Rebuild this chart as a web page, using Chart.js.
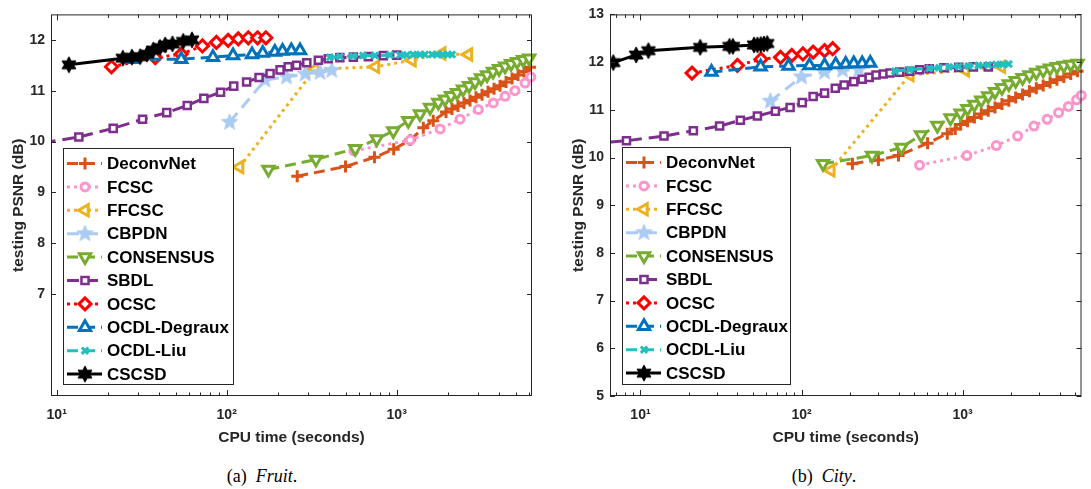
<!DOCTYPE html>
<html>
<head>
<meta charset="utf-8">
<script src="https://cdn.jsdelivr.net/npm/chart.js@4.4.1/dist/chart.umd.min.js"></script>
<style>
  html, body { margin: 0; padding: 0; background: #fff; }
  body { width: 1091px; height: 489px; position: relative; overflow: hidden; }
  canvas { position: absolute; top: 0; }
  #fruitCanvas { left: 0; }
  #cityCanvas { left: 560px; }
  .caption {
    position: absolute; top: 466px; transform: translateX(-50%);
    font: 18px "Liberation Serif", "Times New Roman", serif; color: #000; white-space: pre;
  }
</style>
</head>
<body>
<canvas id="fruitCanvas" width="545" height="450"></canvas>
<canvas id="cityCanvas" width="531" height="450"></canvas>
<div class="caption" style="left:262px">(a)  <i>Fruit</i>.</div>
<div class="caption" style="left:824px">(b)  <i>City</i>.</div>
<script>
// method names, in legend order
const methods = ["DeconvNet", "FCSC", "FFCSC", "CBPDN", "CONSENSUS", "SBDL", "OCSC", "OCDL-Degraux", "OCDL-Liu", "CSCSD"];

// ---- (a) Fruit : [CPU time (s), testing PSNR (dB)] ----
const fruitDeconvNet = [[260, 9.32], [500, 9.51], [740, 9.69], [960, 9.85], [1200, 10.03], [1434, 10.27], [1640, 10.41],
  [1950, 10.58], [2115, 10.64], [2294, 10.70], [2489, 10.76], [2700, 10.81], [2929, 10.87], [3177, 10.92], [3446, 10.98],
  [3738, 11.04], [4054, 11.10], [4398, 11.17], [4770, 11.24], [5175, 11.31], [5613, 11.38], [6089, 11.46]];
const fruitFCSC = [[560, 9.82], [1200, 10.03], [1800, 10.25], [2360, 10.44], [3020, 10.63], [3700, 10.76], [4340, 10.89],
  [4960, 11.00], [5690, 11.15], [6150, 11.27]];
const fruitFFCSC = [[119, 9.50], [330, 11.42], [750, 11.47], [1230, 11.60], [1840, 11.73], [2640, 11.71]];
const fruitCBPDN = [[104, 10.38], [168, 11.21], [225, 11.27], [289, 11.33], [354, 11.36], [415, 11.40]];
const fruitCONSENSUS = [[176, 9.45], [335, 9.65], [570, 9.86], [763, 10.05], [955, 10.21], [1170, 10.41], [1371, 10.54],
  [1571, 10.67], [1758, 10.77], [1923, 10.83], [2086, 10.90], [2263, 10.96], [2455, 11.03], [2663, 11.10], [2889, 11.17],
  [3134, 11.25], [3400, 11.31], [3688, 11.38], [4001, 11.43], [4340, 11.48], [4709, 11.53], [5108, 11.57], [5541, 11.61],
  [6011, 11.64]];
const fruitSBDL = [[6.5, 9.92], [13.5, 10.09], [21.5, 10.26], [32, 10.44], [44.4, 10.57], [58.6, 10.71], [73.4, 10.85],
  [92, 10.97], [110, 11.09], [131, 11.17], [155, 11.26], [180, 11.34], [206, 11.41], [230, 11.47], [258, 11.50],
  [296, 11.55], [346, 11.60], [396, 11.63], [463, 11.65], [556, 11.66], [681, 11.67], [834, 11.69], [1000, 11.70]];
const fruitOCSC = [[21, 11.47], [38, 11.65], [54, 11.72], [72, 11.88], [87, 11.95], [102, 11.99], [117, 12.02],
  [134, 12.04], [152, 12.04], [170, 12.04]];
const fruitDegraux = [[28, 11.62], [54, 11.62], [83, 11.66], [109, 11.69], [141, 11.71], [163, 11.74], [192, 11.76],
  [213, 11.78], [240, 11.79], [270, 11.79]];
const fruitLiu = [[405, 11.66], [464, 11.67], [553, 11.68], [634, 11.69], [745, 11.69], [913, 11.70], [1045, 11.70],
  [1149, 11.70], [1247, 11.71], [1371, 11.71], [1467, 11.71], [1614, 11.71], [1727, 11.71], [1872, 11.71], [2003, 11.71],
  [2115, 11.71]];
const fruitCSCSD = [[11.8, 11.51], [24.5, 11.64], [27.7, 11.66], [31, 11.67], [34, 11.72], [37, 11.80], [40.5, 11.85],
  [43.5, 11.90], [48, 11.92], [55.5, 11.97], [62.5, 12.00]];

// ---- (b) City ----
const cityDeconvNet = [[207, 9.87], [300, 9.95], [400, 10.04], [606, 10.30], [803, 10.50], [900, 10.60], [972, 10.69],
  [1072, 10.76], [1183, 10.84], [1305, 10.91], [1442, 10.98], [1589, 11.05], [1754, 11.12], [1935, 11.19], [2135, 11.26],
  [2356, 11.32], [2600, 11.39], [2867, 11.45], [3163, 11.51], [3490, 11.57], [3850, 11.63], [4248, 11.69], [4687, 11.75],
  [5170, 11.81]];
const cityFCSC = [[540, 9.84], [1062, 10.04], [1618, 10.25], [2193, 10.45], [2771, 10.66], [3345, 10.80], [3942, 10.94],
  [4539, 11.07], [5097, 11.21], [5450, 11.30]];
const cityFFCSC = [[152, 9.73], [470, 11.73], [1040, 11.83], [1740, 11.90]];
const cityCBPDN = [[64, 11.18], [100, 11.69], [139, 11.79], [180, 11.83], [227, 11.84]];
const cityCONSENSUS = [[136, 9.87], [274, 10.04], [417, 10.21], [552, 10.47], [697, 10.67], [841, 10.83], [972, 10.93],
  [1072, 11.02], [1183, 11.11], [1305, 11.20], [1442, 11.29], [1589, 11.38], [1754, 11.46], [1935, 11.54], [2135, 11.61],
  [2356, 11.67], [2600, 11.73], [2867, 11.78], [3163, 11.83], [3490, 11.87], [3850, 11.90], [4248, 11.93], [4687, 11.95],
  [5170, 11.97]];
const citySBDL = [[5, 10.30], [8.19, 10.35], [14, 10.45], [21.3, 10.56], [31, 10.66], [41.7, 10.78], [53.2, 10.87],
  [68.8, 10.97], [84.9, 11.05], [101, 11.15], [118, 11.28], [139, 11.35], [162, 11.45], [184, 11.52], [211, 11.59],
  [238, 11.64], [263, 11.68], [290, 11.73], [322, 11.75], [354, 11.77], [407, 11.79], [469, 11.81], [540, 11.84],
  [621, 11.86], [766, 11.88], [946, 11.89], [1167, 11.90], [1443, 11.90]];
const cityOCSC = [[20.9, 11.77], [40, 11.93], [56, 12.06], [74, 12.10], [87, 12.14], [102, 12.17], [118, 12.21],
  [139, 12.24], [156, 12.28]];
const cityDegraux = [[27.6, 11.79], [55.7, 11.90], [83, 11.92], [112, 11.93], [139, 11.93], [163, 11.95], [188, 11.96],
  [211, 11.97], [238, 11.97], [267, 11.98]];
const cityLiu = [[380, 11.81], [469, 11.84], [621, 11.87], [714, 11.88], [822, 11.90], [946, 11.91], [1088, 11.92],
  [1253, 11.93], [1443, 11.94], [1612, 11.95], [1778, 11.95], [1935, 11.96]];
const cityCSCSD = [[6.78, 11.99], [9.4, 12.15], [11.2, 12.24], [23.5, 12.31], [35.7, 12.33], [37.5, 12.33], [50.7, 12.36],
  [53.2, 12.36], [55.8, 12.37], [58.4, 12.38], [61.2, 12.39]];

// axis ranges and tick labels
const fruitXRange = [9.26, 6250];
const cityXRange = [6.47, 5470];
const fruitYRange = [5, 12.5];
const cityYRange = [5, 13];
const fruitYTicks = [7, 8, 9, 10, 11, 12];
const cityYTicks = [5, 6, 7, 8, 9, 10, 11, 12, 13];

// ---- styles ----
function starCanvas(points, outer, inner, fill, stroke, lw) {
  const size = Math.ceil((outer + lw) * 2) + 2;
  const c = document.createElement("canvas");
  c.width = c.height = size;
  const g = c.getContext("2d");
  g.translate(size / 2, size / 2);
  g.beginPath();
  for (let k = 0; k < points * 2; k++) {
    const r = k % 2 ? inner : outer;
    const a = -Math.PI / 2 + k * Math.PI / points;
    g.lineTo(r * Math.cos(a), r * Math.sin(a));
  }
  g.closePath();
  g.fillStyle = fill;
  g.fill();
  g.lineJoin = "round";
  g.lineWidth = lw;
  g.strokeStyle = stroke;
  g.stroke();
  return c;
}

const DASH = [11, 6];
const DOT = [3, 4];
const styles = [
  { color: "#D95319", dash: DASH, marker: "cross", r: 6, bw: 3, fill: "#D95319" },
  { color: "#FA96CB", dash: DOT, marker: "circle", r: 4, bw: 3, fill: "#fff" },
  { color: "#EDB120", dash: DOT, marker: "triangle", rot: -90, r: 6.5, bw: 3, fill: "#fff" },
  { color: "#AACBF2", dash: [12, 7], marker: starCanvas(5, 8.5, 3.6, "#AACBF2", "#AACBF2", 1), r: 8, bw: 0, fill: "#AACBF2" },
  { color: "#77AC30", dash: DASH, marker: "triangle", rot: 180, r: 6.5, bw: 3, fill: "#fff" },
  { color: "#7E2F8E", dash: [12, 7], marker: "rect", r: 5, bw: 2.5, fill: "#fff" },
  { color: "#FF0000", dash: DOT, marker: "rectRot", r: 6, bw: 3, fill: "#fff" },
  { color: "#0072BD", dash: DASH, marker: "triangle", r: 6.5, bw: 3, fill: "#fff" },
  { color: "#22BFBF", dash: DASH, marker: "crossRot", r: 4.5, bw: 3, fill: "#22BFBF" },
  { color: "#000000", dash: [], marker: starCanvas(6, 7.5, 4, "#000", "#000", 1.5), r: 8, bw: 0, fill: "#000" }
];

const sup = { 0: "⁰", 1: "¹", 2: "²", 3: "³", 4: "⁴" };
const TEXT = "#262626";
Chart.defaults.font.family = '"Liberation Sans", Arial, Helvetica, sans-serif';

function makeDatasets(seriesList, xMin) {
  return seriesList.map((pts, i) => {
    const st = styles[i];
    return {
      label: methods[i],
      data: pts.map(p => ({ x: p[0], y: p[1] })),
      borderColor: st.color,
      backgroundColor: st.fill,
      borderWidth: 3,
      borderDash: st.dash,
      pointStyle: st.marker,
      pointRotation: st.rot || 0,
      pointRadius: c => (c.raw && c.raw.x < xMin) ? 0 : st.r,
      pointHoverRadius: st.r,
      pointBorderWidth: st.bw,
      pointBorderColor: st.color,
      pointBackgroundColor: st.fill,
      tension: 0,
      order: seriesList.length - i,
      clip: { left: 0, top: 10, right: 10, bottom: 0 }
    };
  });
}

// box with inward ticks, like the original axes
const axesBox = {
  id: "axesBox",
  afterDraw(chart) {
    const { ctx, chartArea: a } = chart;
    const xs = chart.scales.x, ys = chart.scales.y;
    ctx.save();
    ctx.setLineDash([]);
    ctx.strokeStyle = TEXT;
    ctx.lineWidth = 1;
    const seg = (x1, y1, x2, y2) => { ctx.beginPath(); ctx.moveTo(x1, y1); ctx.lineTo(x2, y2); ctx.stroke(); };
    ctx.strokeRect(a.left + 0.5, a.top + 0.5, a.right - a.left - 1, a.bottom - a.top - 1);
    xs.ticks.forEach(t => {
      const px = Math.round(xs.getPixelForValue(t.value)) + 0.5;
      const len = t.major ? 6 : 3.5;
      seg(px, a.bottom, px, a.bottom - len);
      seg(px, a.top, px, a.top + len);
    });
    ys.ticks.forEach(t => {
      const py = Math.round(ys.getPixelForValue(t.value)) + 0.5;
      seg(a.left, py, a.left + 5, py);
      seg(a.right, py, a.right - 5, py);
    });
    ctx.restore();
  }
};

// legend drawn inside the plot, lower left
const legendBox = {
  id: "legendBox",
  afterDraw(chart, args, o) {
    const ctx = chart.ctx;
    ctx.save();
    ctx.setLineDash([]);
    ctx.fillStyle = "#fff";
    ctx.fillRect(o.left, o.top, o.width, o.height);
    ctx.strokeStyle = TEXT;
    ctx.lineWidth = 1;
    ctx.strokeRect(o.left + 0.5, o.top + 0.5, o.width, o.height);
    chart.data.datasets.forEach((ds, i) => {
      const st = styles[i];
      const y = o.top + 15.5 + i * o.step;
      ctx.save();
      ctx.strokeStyle = st.color;
      ctx.lineWidth = 3;
      ctx.setLineDash(st.dash);
      ctx.beginPath();
      ctx.moveTo(o.left + 4, y);
      ctx.lineTo(o.left + 39, y);
      ctx.stroke();
      ctx.setLineDash([]);
      ctx.fillStyle = st.fill;
      ctx.strokeStyle = st.color;
      ctx.lineWidth = st.bw;
      if (Chart.helpers && Chart.helpers.drawPoint) {
        Chart.helpers.drawPoint(ctx, { pointStyle: st.marker, rotation: st.rot || 0, radius: st.r, borderWidth: st.bw }, o.left + 22, y);
      }
      ctx.restore();
      ctx.fillStyle = "#000";
      ctx.font = 'bold 17px "Liberation Sans", Arial, sans-serif';
      ctx.textBaseline = "middle";
      ctx.fillText(ds.label, o.left + 44, y + 1);
    });
    ctx.restore();
  }
};

function niceLogTicks(scale) {
  scale.ticks = scale.ticks.filter(t => {
    const e = Math.floor(Math.log10(t.value) + 1e-9);
    const m = t.value / Math.pow(10, e);
    return Math.abs(m - Math.round(m)) < 1e-6;
  }).map(t => {
    const e = Math.log10(t.value);
    return { value: t.value, major: Math.abs(e - Math.round(e)) < 1e-9 };
  });
}

function makeChart(canvasId, seriesList, xRange, yRange, yTicks, yWidth, padRight, legendPos) {
  return new Chart(document.getElementById(canvasId), {
    type: "line",
    data: { datasets: makeDatasets(seriesList, xRange[0]) },
    plugins: [axesBox, legendBox],
    options: {
      responsive: false,
      animation: false,
      devicePixelRatio: 1,
      layout: { padding: { top: 8, right: padRight, left: 0, bottom: 0 } },
      plugins: {
        legend: { display: false },
        tooltip: { enabled: false },
        legendBox: legendPos
      },
      scales: {
        x: {
          type: "logarithmic",
          min: xRange[0],
          max: xRange[1],
          border: { display: false },
          grid: { display: false, drawTicks: false },
          afterBuildTicks: niceLogTicks,
          afterFit: s => { s.height = 54; },
          ticks: {
            autoSkip: false,
            maxRotation: 0,
            padding: 11,
            color: TEXT,
            font: { size: 14, weight: "bold" },
            callback: v => {
              const e = Math.log10(v);
              return Math.abs(e - Math.round(e)) < 1e-9 ? "10" + sup[Math.round(e)] : "";
            }
          },
          title: {
            display: true,
            text: "CPU time (seconds)",
            color: TEXT,
            font: { size: 15.5, weight: "bold" },
            padding: { top: 0, bottom: 3 }
          }
        },
        y: {
          min: yRange[0],
          max: yRange[1],
          border: { display: false },
          grid: { display: false, drawTicks: false },
          afterBuildTicks: s => { s.ticks = yTicks.map(v => ({ value: v })); },
          afterFit: s => { s.width = yWidth; },
          ticks: {
            padding: 6,
            color: TEXT,
            font: { size: 14, weight: "bold" }
          },
          title: {
            display: true,
            text: "testing PSNR (dB)",
            color: TEXT,
            font: { size: 15.5, weight: "bold" },
            padding: { top: 9, bottom: 0 }
          }
        }
      }
    }
  });
}

makeChart("fruitCanvas",
  [fruitDeconvNet, fruitFCSC, fruitFFCSC, fruitCBPDN, fruitCONSENSUS, fruitSBDL, fruitOCSC, fruitDegraux, fruitLiu, fruitCSCSD],
  fruitXRange, fruitYRange, fruitYTicks, 51, 13,
  { left: 63, top: 148, width: 170, height: 236, step: 23.4 });

makeChart("cityCanvas",
  [cityDeconvNet, cityFCSC, cityFFCSC, cityCBPDN, cityCONSENSUS, citySBDL, cityOCSC, cityDegraux, cityLiu, cityCSCSD],
  cityXRange, cityYRange, cityYTicks, 50, 1,
  { left: 62, top: 147, width: 168, height: 237, step: 23.4 });
</script>
</body>
</html>
